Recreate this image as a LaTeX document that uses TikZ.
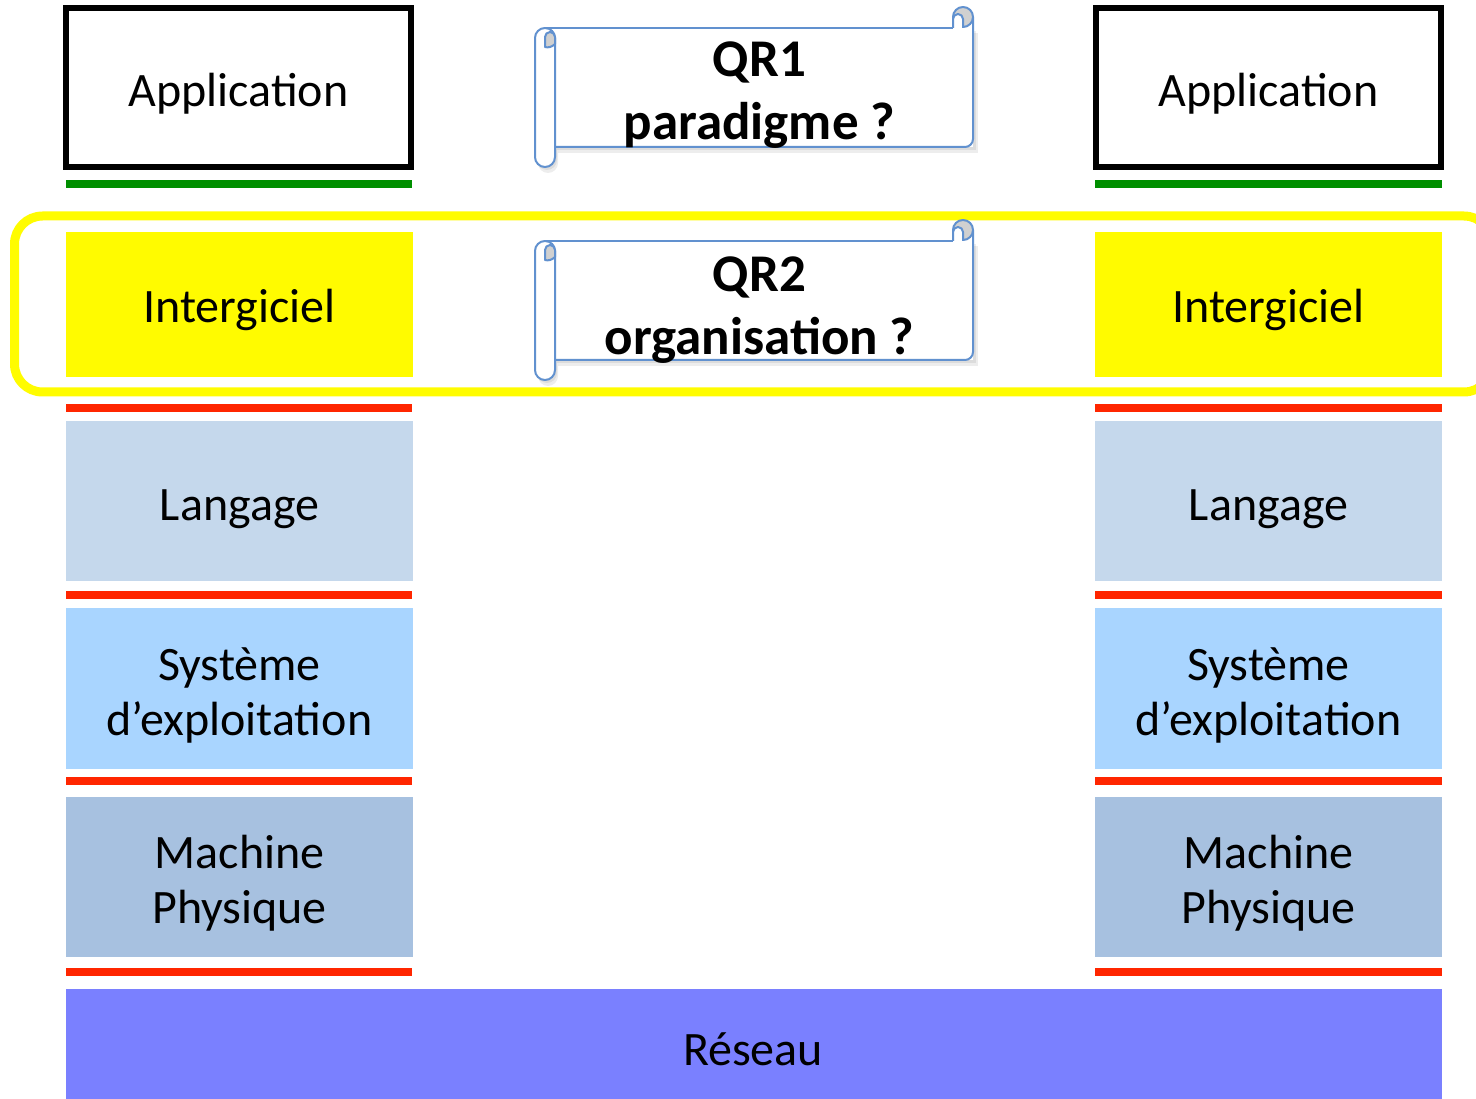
\documentclass[tikz,border=0pt]{standalone}
\usepackage{fontspec}
\setmainfont{Carlito}
\definecolor{cGreen}{RGB}{0,143,0}
\definecolor{cRed}{RGB}{255,38,0}
\definecolor{cYel}{RGB}{255,251,0}
\definecolor{cFrame}{RGB}{255,252,0}
\definecolor{cLang}{RGB}{197,216,236}
\definecolor{cSys}{RGB}{169,213,255}
\definecolor{cMach}{RGB}{167,193,224}
\definecolor{cNet}{RGB}{122,128,255}
\definecolor{cScroll}{RGB}{97,145,207}
\definecolor{cCurl}{RGB}{208,208,208}
\newcommand{\QRscroll}[1]{%
\begin{scope}[shift={(0,#1)}]
  % soft shadow
  \fill[black,opacity=0.07] (558,33) rectangle (978,153);
  \fill[black,opacity=0.07] (538,43) -- (538,163) arc[start angle=180,end angle=0,radius=10] -- (558,43) -- cycle;
  \fill[black,opacity=0.07] (557,31) rectangle (976,150);
  \fill[black,opacity=0.07] (537,41) -- (537,160) arc[start angle=180,end angle=0,radius=10] -- (557,41) -- cycle;
  % body
  \fill[white] (555,28) rectangle (973,147);
  \draw[scrl] (545,28) -- (953,28);
  \draw[scrl, rounded corners=8pt] (973,17) -- (973,147) -- (555,147);
  % right curl
  \filldraw[scrl, fill=cCurl] (963,17) circle[radius=10];
  \filldraw[scrl, fill=white] (953,28) -- (953,19) arc[start angle=180,end angle=360,radius=5] -- (963,28);
  % left roll
  \filldraw[scrl, fill=white] (535,38) -- (535,157) arc[start angle=180,end angle=0,radius=10] -- (555,38) arc[start angle=0,end angle=-180,radius=10] -- cycle;
  \filldraw[scrl, fill=cCurl] (545,47) -- (545,37) arc[start angle=180,end angle=360,radius=5] -- (555,44) .. controls (552,47) and (548,48) .. (545,47) -- cycle;
\end{scope}}
\begin{document}
\begin{tikzpicture}[x=1pt,y=-1pt,
  scrl/.style={draw=cScroll, line width=2pt, line join=round},
  layer/.style={inner sep=0pt, outer sep=0pt, minimum width=347pt},
  appbox/.style={draw=black, line width=6pt, fill=white, inner sep=0pt, minimum width=345pt, minimum height=159pt},
  lbl/.style={font=\fontsize{48}{56}\selectfont, anchor=base, inner sep=0pt},
  qrlbl/.style={font=\fontsize{53}{63}\selectfont\bfseries, anchor=base, inner sep=0pt},
  greenbar/.style={fill=cGreen},
  redbar/.style={fill=cRed}]
\useasboundingbox (0,0) rectangle (1476,1099);
\clip (0,0) rectangle (1476,1099);
\fill[white] (0,0) rectangle (1476,1099);

% ---------- left column ----------
\node[appbox] (appL) at (238.5,87.5) {};
\fill[greenbar] (66,180) rectangle (412,188);
\node[layer, fill=cYel, minimum height=145pt] (intL) at (239.5,304.5) {};
\fill[redbar] (66,404) rectangle (412,412);
\node[layer, fill=cLang, minimum height=160pt] (langL) at (239.5,501) {};
\fill[redbar] (66,591) rectangle (412,599);
\node[layer, fill=cSys, minimum height=161pt] (sysL) at (239.5,688.5) {};
\fill[redbar] (66,777) rectangle (412,785);
\node[layer, fill=cMach, minimum height=160pt] (machL) at (239.5,877) {};
\fill[redbar] (66,968) rectangle (412,976);

% ---------- right column ----------
\node[appbox] (appR) at (1268.5,87.5) {};
\fill[greenbar] (1095,180) rectangle (1442,188);
\node[layer, fill=cYel, minimum height=145pt] (intR) at (1268.5,304.5) {};
\fill[redbar] (1095,404) rectangle (1442,412);
\node[layer, fill=cLang, minimum height=160pt] (langR) at (1268.5,501) {};
\fill[redbar] (1095,591) rectangle (1442,599);
\node[layer, fill=cSys, minimum height=161pt] (sysR) at (1268.5,688.5) {};
\fill[redbar] (1095,777) rectangle (1442,785);
\node[layer, fill=cMach, minimum height=160pt] (machR) at (1268.5,877) {};
\fill[redbar] (1095,968) rectangle (1442,976);

% ---------- network ----------
\node[inner sep=0pt, outer sep=0pt, fill=cNet, minimum width=1376pt, minimum height=112pt] (net) at (754,1045) {};

% ---------- yellow frame ----------
\draw[cFrame, line width=9pt, rounded corners=28pt] (14.5,216) rectangle (1492,392);

% ---------- scrolls ----------
\QRscroll{0}
\QRscroll{213}

% ---------- labels ----------
\node[lbl] (appLt) at (238.5,107) {Application};
\node[lbl] (appRt) at (1268.5,107) {Application};
\node[lbl] (intLt) at (239.5,323) {Intergiciel};
\node[lbl] (intRt) at (1268.5,323) {Intergiciel};
\node[lbl] (langLt) at (239.5,520.5) {Langage};
\node[lbl] (langRt) at (1268.5,520.5) {Langage};
\node[lbl] (sysLa) at (239.5,680) {Système};
\node[lbl] (sysLb) at (239.5,735.5) {d’exploitation};
\node[lbl] (sysRa) at (1268.5,680) {Système};
\node[lbl] (sysRb) at (1268.5,735.5) {d’exploitation};
\node[lbl] (machLa) at (239.5,868) {Machine};
\node[lbl] (machLb) at (239.5,923.5) {Physique};
\node[lbl] (machRa) at (1268.5,868) {Machine};
\node[lbl] (machRb) at (1268.5,923.5) {Physique};
\node[lbl] (nett) at (753,1065) {Réseau};

\node[qrlbl] (qr1a) at (759.5,77) {QR1};
\node[qrlbl] (qr1b) at (759.5,140) {paradigme ?};
\node[qrlbl] (qr2a) at (759.5,292) {QR2};
\node[qrlbl] (qr2b) at (759.5,355) {organisation ?};
\end{tikzpicture}
\end{document}
